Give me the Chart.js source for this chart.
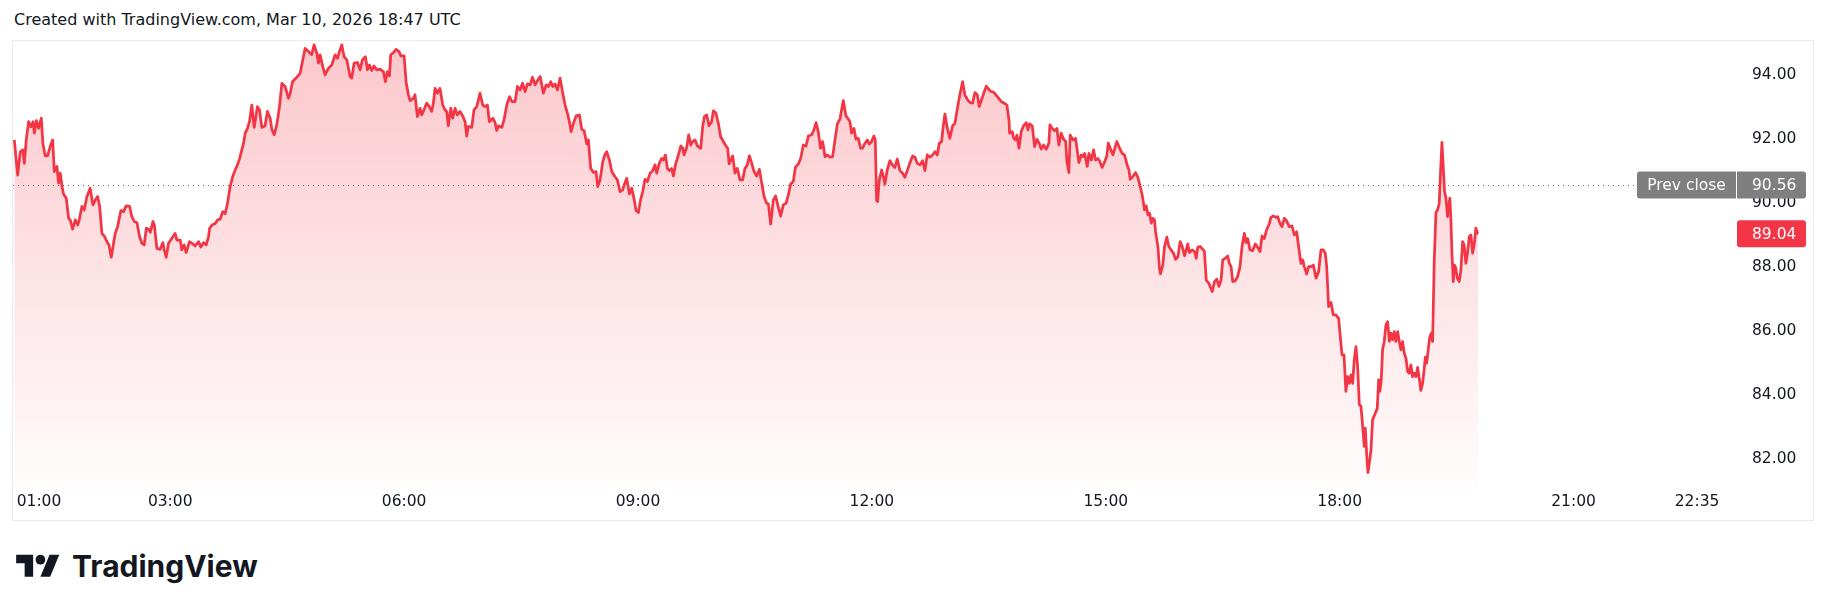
<!DOCTYPE html>
<html>
<head>
<meta charset="utf-8">
<script src="https://cdn.jsdelivr.net/npm/chart.js@4.4.1/dist/chart.umd.min.js"></script>
<style>
  body { margin: 0; background: #fff; width: 1830px; height: 611px; position: relative; overflow: hidden; font-family: 'DejaVu Sans', sans-serif; color: #131722; }
  #head { position: absolute; left: 14px; top: 10px; font-size: 16px; line-height: 20px; white-space: nowrap; }
  #frame { position: absolute; left: 12px; top: 40px; width: 1800px; height: 479px; border: 1px solid #ebebeb; }
  #chart { position: absolute; left: 13px; top: 41px; }
  #logo { position: absolute; left: 16px; top: 550px; }
  #brand { position: absolute; left: 72px; top: 550px; font-family: Inter, sans-serif; font-weight: 700; font-size: 30px; line-height: 32px; }
</style>
</head>
<body>
<div id="head">Created with TradingView.com, Mar 10, 2026 18:47 UTC</div>
<div id="frame"></div>
<canvas id="chart" width="1800" height="479"></canvas>
<svg id="logo" width="44" height="34" viewBox="0 0 36 28"><path d="M14 22H7V11H0V4h14v18zM28 22h-8l7.5-18h8L28 22z" fill="#131722"/><circle cx="20" cy="8" r="4" fill="#131722"/></svg>
<div id="brand">TradingView</div>
<script>
// minutes after the 01:00 open
const minsFromOpen = [
  0, 2.6, 4.6, 6.6, 7.7, 9.2, 11, 12.8, 14.4, 15.4, 17, 18.7, 20.8, 22, 23.8, 25.6, 27.7, 29.5, 30.8, 32.8,
  34.1, 35.4, 36.7, 37.9, 40, 41.8, 43, 44.9, 46.9, 48.8, 50, 52, 53.8, 55.9, 58.4, 60.5, 62.3, 64.1, 65.7, 67.4,
  69.5, 71.3, 72.8, 74.6, 76.4, 77.7, 79.5, 82, 84.1, 86.1, 88.7, 90.5, 92.3, 94.4, 96.4, 98.2, 100, 101.6, 103.4, 104.7,
  106.7, 107.8, 109.7, 112.3, 114.3, 115.4, 116.9, 118.7, 121.3, 123.8, 125.1, 127.7, 128.9, 130.7, 132.3, 134.8, 137.4, 139.2, 141.8, 143.6,
  145.6, 147.7, 149.5, 150.3, 152.1, 154.6, 156.4, 158.4, 160.5, 162.3, 164.1, 166.1, 168.2, 170, 171.3, 173.3, 175.1, 176.4, 177.7, 179.5,
  181, 182.8, 184.6, 187.1, 188.7, 190.5, 193, 194.8, 196.9, 198.2, 200, 202, 204.1, 205.9, 208.4, 211, 212.3, 214.1, 217.4, 220,
  222, 223.8, 226.4, 228.9, 230.7, 232.8, 234.1, 235.3, 237.4, 239.2, 241.8, 244.3, 246.9, 248.7, 250.2, 252, 253.8, 255.9, 258.4, 259.7,
  261.5, 264.1, 266.1, 267.9, 270.2, 271.8, 273.3, 275.1, 276.9, 279, 281.5, 284.1, 285.6, 287.1, 288.7, 289.7, 291.8, 293.8, 296.1, 297.4,
  300, 301.5, 303.3, 304.6, 307.1, 308.4, 310.2, 312.3, 313.5, 315.3, 317.4, 319.4, 321.2, 322.5, 323.8, 325.6, 327.6, 329.7, 331.5, 332.8,
  334, 335.9, 337.4, 339.2, 341, 343, 345.1, 346.9, 348.2, 349.4, 352, 353.8, 355.9, 358.4, 360.5, 362.3, 364.1, 365.6, 368.3, 370,
  371.3, 372.6, 375.2, 377, 379, 381.1, 382.9, 385.4, 387.2, 389.3, 391.1, 393.1, 394.9, 397, 398.8, 400.8, 402.6, 404.7, 407.2, 409.3,
  411.1, 412.9, 414.4, 416.2, 418, 420, 422.1, 423.9, 425.7, 427.2, 428.5, 430.3, 432.4, 434.9, 436.7, 438.5, 440.6, 441.8, 443.6, 445.7,
  447.7, 449, 450.8, 452.9, 454.7, 455.9, 458, 459.8, 462.3, 464.1, 466.2, 468.2, 470, 471.3, 473.4, 475.2, 477, 478.5, 480.3, 482.1,
  483.6, 485.4, 487.2, 489.3, 491.3, 493.1, 494.4, 496.4, 498.2, 499.5, 501.1, 502.6, 504.1, 505.9, 507.2, 509, 511.1, 512.9, 514.4, 515.4,
  517.5, 519, 520.6, 522.1, 523.9, 525.7, 528.3, 529.8, 531.1, 532.9, 534.6, 536.7, 538, 540, 541.8, 543.6, 545.7, 547.7, 549, 550.1,
  552.9, 554.6, 556.4, 558.5, 560.5, 562.3, 564.1, 565.7, 567.5, 569.3, 571.3, 573.4, 575.2, 577, 579, 580.3, 582.1, 584.1, 585.9, 588,
  589.8, 591.8, 593.9, 595.7, 597.5, 599.5, 601.1, 603.4, 605.2, 607.2, 609.3, 611.1, 613.6, 615.4, 617, 618.7, 620.5, 622.1, 623.9, 625.7,
  627.7, 629.8, 631.6, 633.4, 635.4, 636.7, 638, 640, 641.8, 643.1, 644.4, 646.2, 647.7, 649.5, 651.3, 652.8, 654.6, 656.4, 658, 659.8,
  661.5, 662.6, 663.6, 664.4, 665.7, 667.5, 668.8, 670, 671.8, 673.9, 675.7, 677.7, 679.5, 681.6, 683.6, 685.4, 687.2, 689.3, 691.3, 693.1,
  694.9, 697, 699, 700.8, 702.6, 704.6, 706.7, 708.5, 710.3, 711.8, 713.6, 714.9, 716.2, 717.9, 720, 722.1, 723.9, 725.7, 727.7, 729.8,
  731.5, 733.4, 735.4, 737.5, 739.3, 741.1, 742.6, 745, 748, 751, 754, 757, 759.5, 762.1, 763.9, 765.5, 766, 768, 769.1, 770.6,
  771.6, 773.2, 774.9, 776.7, 778.8, 780.1, 781.4, 783.4, 785.2, 787, 789, 790.3, 792.1, 794.2, 796.2, 797, 798.8, 800.6, 802.4, 803.9,
  805.7, 807.5, 809.1, 810.1, 811.6, 812.6, 814.7, 816.7, 817.8, 819.3, 821.1, 822.4, 823.7, 825.7, 827, 828.8, 830.6, 832.1, 833.9, 835.2,
  837.2, 839.1, 840.8, 841.9, 843.4, 845.5, 847, 848.5, 850.6, 852.6, 854.4, 856.2, 857.8, 858.8, 860.8, 862.9, 864.7, 866.5, 868, 869.8,
  871.1, 872.4, 873.7, 875, 876.2, 877.5, 878.3, 880.1, 881.3, 882.1, 883.9, 885.2, 887, 888.5, 890.3, 892.1, 893.7, 895.5, 897.2, 898.8,
  900.6, 901.9, 903.1, 904.4, 906.5, 908.3, 909.6, 910.8, 912.6, 914.7, 915.9, 917.3, 919.3, 920.3, 921.9, 923.7, 925.4, 927, 928.7, 930,
  932, 933.8, 935.1, 936.4, 937.7, 939.7, 941.5, 943.3, 944.8, 946.6, 947.9, 949.2, 951, 953, 955.1, 956.9, 958.7, 960.2, 962, 963.8,
  965.9, 967.1, 968.9, 971, 972.3, 974.1, 975.6, 977.4, 978.7, 981.2, 983.3, 985.1, 986.9, 988.4, 990.2, 991.5, 992.8, 994.6, 996.1, 997.9,
  999.7, 1001.8, 1003.8, 1005.6, 1007.4, 1008.9, 1010, 1011.5, 1013.3, 1015.1, 1017.1, 1019.2, 1020.2, 1021.8, 1023.3, 1024.8, 1026.1, 1027.4, 1028.7, 1030,
  1031.2, 1032.5, 1033.8, 1035.1, 1036.4, 1037.7, 1038.9, 1039.7, 1040.7, 1041.8, 1042.8, 1044.1, 1045.3, 1047.4, 1048.9, 1050, 1051, 1052, 1053, 1054.3,
  1055.6, 1056.9, 1058.2, 1059.4, 1060.7, 1062, 1063.3, 1064.6, 1065.9, 1067.1, 1068.4, 1069.7, 1071, 1072.3, 1073.5, 1074.8, 1076.1, 1077.4, 1078.7, 1080,
  1081.2, 1082.5, 1083.8, 1085.1, 1085.9, 1086.9, 1088.4, 1089.4, 1090.5, 1091.5, 1092.8, 1094.1, 1095.3, 1096.6, 1097.7, 1098.7, 1099.7, 1100.7, 1101.8, 1103,
  1103.8, 1104.8, 1105.6, 1106.4, 1107.4, 1108.4, 1109.4, 1110.5, 1112, 1113.3, 1114.6, 1115.8, 1117.1, 1118.4, 1119.7, 1121, 1122.3, 1123.5, 1124.8, 1126.1,
  1126.7
]
const prices = [
  91.97, 90.87, 91.6, 91.66, 91.24, 91.97, 92.54, 92.38, 92.54, 92.18, 92.57, 92.33, 92.65, 91.86, 91.47, 91.47, 91.78, 91.97, 90.98, 91.14,
  90.62, 90.93, 90.51, 90.28, 90.15, 89.52, 89.47, 89.18, 89.47, 89.31, 89.47, 89.89, 89.78, 90.2, 90.46, 89.94, 90.09, 90.2, 89.89, 89.05,
  88.95, 88.79, 88.69, 88.3, 88.74, 89.05, 89.26, 89.76, 89.73, 89.91, 89.89, 89.57, 89.42, 89.38, 88.95, 88.74, 88.69, 89.21, 89.18, 89.08,
  89.42, 89.31, 88.58, 88.55, 88.76, 88.53, 88.3, 88.74, 88.9, 89.05, 88.84, 88.84, 88.53, 88.69, 88.45, 88.79, 88.72, 88.66, 88.79, 88.62,
  88.76, 88.69, 88.95, 89.21, 89.31, 89.36, 89.47, 89.49, 89.73, 89.66, 89.99, 90.51, 90.84, 91.03, 91.14, 91.37, 91.66, 91.86, 92.18, 92.33,
  92.54, 93.06, 92.36, 93.01, 92.91, 92.36, 92.41, 92.86, 92.65, 92.3, 92.13, 92.44, 93.01, 93.74, 93.64, 93.27, 93.41, 93.79, 93.93, 94.05,
  94.47, 94.83, 94.73, 94.63, 94.94, 94.68, 94.37, 94.63, 94.26, 94, 94.21, 94.31, 94.63, 94.52, 94.73, 94.94, 94.57, 94.47, 93.95, 93.9,
  94.37, 94.39, 94.16, 94.47, 94.57, 94.16, 94.31, 94.14, 94.28, 94.16, 94.18, 94.1, 93.79, 94.1, 93.97, 94.63, 94.7, 94.8, 94.73, 94.6,
  94.6, 93.79, 93.38, 93.2, 93.27, 93.38, 92.7, 92.96, 92.75, 92.91, 93.12, 93.01, 92.86, 93.12, 93.58, 93.43, 93.58, 93.06, 92.91, 92.86,
  92.41, 92.96, 92.65, 92.96, 92.75, 92.86, 92.72, 92.54, 92.09, 92.39, 92.36, 92.91, 93.01, 93.43, 93.06, 93.01, 93.06, 92.54, 92.65, 92.51,
  92.26, 92.41, 92.36, 92.62, 93.06, 93.32, 93.17, 93.17, 93.64, 93.53, 93.74, 93.48, 93.72, 93.69, 93.93, 93.69, 93.82, 93.95, 93.43, 93.69,
  93.64, 93.79, 93.64, 93.72, 93.53, 93.9, 93.43, 93.06, 92.8, 92.54, 92.23, 92.49, 92.72, 92.75, 92.3, 92.26, 91.84, 91.97, 91.08, 90.95,
  90.98, 90.51, 90.72, 91.29, 91.53, 91.6, 91.34, 90.98, 90.82, 90.72, 90.35, 90.41, 90.64, 90.77, 90.28, 90.46, 90.12, 89.76, 89.7, 90.12,
  90.35, 90.74, 90.67, 90.93, 91.01, 91.19, 90.93, 91.24, 91.39, 91.34, 91.5, 91.08, 91.01, 91.08, 90.84, 91.22, 91.5, 91.78, 91.71, 91.5,
  91.74, 92.13, 91.81, 91.92, 91.97, 91.78, 91.71, 92.39, 92.7, 92.75, 92.41, 92.54, 92.88, 92.8, 92.49, 92.07, 91.92, 91.78, 91.71, 91.22,
  91.47, 90.93, 91.08, 90.72, 90.72, 91.08, 91.19, 91.47, 91.24, 90.98, 90.84, 91.05, 90.62, 90.2, 89.99, 89.97, 89.34, 90.09, 90.22, 89.86,
  89.59, 89.94, 89.99, 90.25, 90.59, 90.67, 91.11, 91.22, 91.39, 91.81, 91.78, 92.09, 92.13, 92.28, 92.51, 92.23, 91.71, 91.92, 91.45, 91.5,
  91.43, 91.45, 91.97, 92.47, 92.62, 92.91, 93.2, 92.72, 92.62, 92.54, 92.18, 92.33, 91.99, 92.02, 91.71, 91.71, 91.86, 91.97, 91.84, 91.92,
  92.09, 91.97, 90.09, 90.04, 90.72, 91.03, 90.82, 90.59, 91.03, 91.32, 91.19, 91.11, 91.37, 91.01, 90.93, 90.8, 91.01, 91.26, 91.47, 91.43,
  91.24, 91.19, 91.32, 91.01, 91.5, 91.43, 91.5, 91.6, 91.5, 91.86, 91.92, 92.39, 92.78, 92.36, 92.02, 92.41, 92.49, 92.93, 93.38, 93.79,
  93.38, 93.24, 93.14, 93.12, 93.45, 93.38, 93.01, 93.3, 93.65, 93.5, 93.45, 93.3, 93.17, 93.11, 93.06, 92.59, 92.18, 92.23, 92.02, 91.97,
  92.12, 91.71, 92.23, 92.41, 92.51, 92.28, 92.47, 92.41, 91.76, 91.99, 91.84, 91.68, 91.81, 91.68, 91.87, 92.44, 92.33, 92.26, 92.33, 91.81,
  92.18, 91.99, 91.92, 91.29, 90.95, 92.12, 91.97, 92.02, 91.71, 91.26, 91.5, 91.45, 91.55, 91.14, 91.55, 91.34, 91.66, 91.34, 91.39, 91.32,
  91.11, 91.29, 91.47, 91.87, 91.71, 91.5, 91.71, 91.92, 91.71, 91.55, 91.5, 91.22, 91.03, 90.74, 90.82, 90.95, 90.8, 90.51, 90.25, 89.78,
  89.91, 89.63, 89.68, 89.37, 89.52, 89.47, 89.1, 88.64, 87.96, 87.78, 88.06, 88.64, 88.93, 88.64, 88.53, 88.43, 88.24, 88.32, 88.79, 88.64,
  88.35, 88.53, 88.72, 88.45, 88.53, 88.48, 88.27, 88.62, 88.64, 88.55, 88.48, 87.59, 87.49, 87.39, 87.23, 87.54, 87.62, 87.39, 87.59, 88.22,
  88.27, 88.34, 88.11, 88.01, 87.54, 87.57, 87.7, 88.01, 88.63, 89.05, 88.76, 88.89, 88.53, 88.51, 88.72, 88.61, 88.48, 88.97, 88.89, 89.16,
  89.36, 89.55, 89.59, 89.55, 89.57, 89.36, 89.26, 89.52, 89.47, 89.26, 89.28, 89, 89.1, 88.63, 88.11, 88.22, 88.01, 87.78, 88.01, 88.01,
  88.06, 87.65, 87.86, 88.53, 88.53, 88.43, 88.01, 86.76, 86.89, 86.5, 86.5, 86.39, 85.93, 85.25, 85.25, 84.11, 84.57, 84.36, 84.63, 84.36,
  85.09, 85.51, 84.89, 83.7, 83.64, 83.01, 82.39, 82.96, 82.18, 81.57, 81.86, 82.28, 83.22, 83.43, 83.58, 84.47, 84.11, 84.47, 85.41, 85.67,
  86.19, 86.29, 85.67, 85.93, 85.72, 85.98, 85.67, 85.98, 85.67, 85.41, 85.67, 85.3, 85.15, 84.73, 84.68, 84.94, 84.57, 84.68, 84.57, 84.86,
  84.52, 84.14, 84.36, 84.83, 85.18, 84.99, 85.51, 85.82, 85.93, 85.67, 88.22, 89.7, 89.78, 89.99, 91.03, 91.89, 91.14, 90.35, 90.15, 89.57,
  89.89, 90.15, 89.47, 88.43, 87.54, 88.06, 87.96, 87.65, 87.54, 87.91, 88.79, 88.69, 88.11, 88.43, 88.95, 89, 88.43, 88.69, 89.21, 89.05,
  89.04
]
const priceTicks = [82, 84, 86, 88, 90, 92, 94]
const timeTickMins = [19, 120, 300, 480, 660, 840, 1020, 1200, 1295]
const timeTickLabels = ['01:00', '03:00', '06:00', '09:00', '12:00', '15:00', '18:00', '21:00', '22:35']
const prevClose = 90.56
const lastPrice = 89.04

const red = '#f23645'
const grey = '#7f7f7f'
const labelFont = '15.5px "DejaVu Sans"'

// price tags on the right edge
const tag = (ctx, x, y, w, h, color, radii) => {
  ctx.fillStyle = color
  ctx.beginPath()
  ctx.roundRect(x, y - h / 2, w, h, radii)
  ctx.fill()
}

const refLines = {
  id: 'refLines',
  beforeDatasetsDraw(chart) {
    const { ctx, chartArea, scales: { y } } = chart
    const py = Math.round(y.getPixelForValue(prevClose)) + 0.5
    ctx.save()
    ctx.strokeStyle = '#666'
    ctx.lineWidth = 1
    ctx.setLineDash([1, 4])
    ctx.beginPath()
    ctx.moveTo(chartArea.left, py)
    ctx.lineTo(chartArea.right, py)
    ctx.stroke()
    ctx.restore()
  },
  afterDraw(chart) {
    const { ctx, chartArea, scales: { y } } = chart
    const r = chartArea.right
    const textX = r + 16
    ctx.save()
    ctx.font = labelFont
    ctx.textBaseline = 'middle'
    // prev close
    const pc = y.getPixelForValue(prevClose)
    tag(ctx, r - 99, pc, 99, 27, grey, [3, 0, 0, 3])
    tag(ctx, r + 1, pc, 69, 27, grey, [0, 3, 3, 0])
    ctx.fillStyle = '#fff'
    ctx.textAlign = 'center'
    ctx.fillText('Prev close', r - 49.5, pc + 1)
    ctx.textAlign = 'left'
    ctx.fillText(prevClose.toFixed(2), textX, pc + 1)
    // last price
    const lp = y.getPixelForValue(lastPrice)
    tag(ctx, r + 1, lp, 69, 27, red, 3)
    ctx.fillStyle = '#fff'
    ctx.fillText(lastPrice.toFixed(2), textX, lp + 1)
    ctx.restore()
  }
}

const canvas = document.getElementById('chart')
new Chart(canvas, {
  type: 'line',
  data: {
    datasets: [{
      data: minsFromOpen.map((m, i) => ({ x: m, y: prices[i] })),
      borderColor: red,
      borderWidth: 2.75,
      borderJoinStyle: 'round',
      pointRadius: 0,
      tension: 0,
      fill: 'start',
      backgroundColor: (c) => {
        const area = c.chart.chartArea
        if (!area) return 'rgba(242,54,69,0.15)'
        const g = c.chart.ctx.createLinearGradient(0, area.top, 0, area.bottom)
        g.addColorStop(0, 'rgba(242,54,69,0.28)')
        g.addColorStop(1, 'rgba(242,54,69,0.01)')
        return g
      }
    }]
  },
  options: {
    responsive: false,
    animation: false,
    devicePixelRatio: 1,
    layout: { padding: { top: 1, left: 0, right: 0, bottom: 0 } },
    plugins: {
      legend: { display: false },
      tooltip: { enabled: false }
    },
    scales: {
      x: {
        type: 'linear',
        min: -1,
        max: 1325,
        grid: { display: false, drawTicks: false },
        border: { display: false },
        afterBuildTicks: (s) => { s.ticks = timeTickMins.map(v => ({ value: v })) },
        afterFit: (s) => { s.height = 31; s.paddingLeft = 0; s.paddingRight = 0 },
        ticks: {
          autoSkip: false,
          maxRotation: 0,
          padding: 4,
          color: '#131722',
          font: { family: 'DejaVu Sans', size: 15.5 },
          callback: (v, i) => timeTickLabels[i]
        }
      },
      y: {
        position: 'right',
        min: 81.06,
        max: 95.03,
        grid: { display: false, drawTicks: false },
        border: { display: false },
        afterBuildTicks: (s) => { s.ticks = priceTicks.map(v => ({ value: v })) },
        afterFit: (s) => { s.width = 77; s.paddingTop = 0; s.paddingBottom = 0 },
        ticks: {
          padding: 16,
          color: '#131722',
          font: { family: 'DejaVu Sans', size: 15.5 },
          callback: (v) => v.toFixed(2)
        }
      }
    }
  },
  plugins: [refLines]
})
</script>
</body>
</html>
